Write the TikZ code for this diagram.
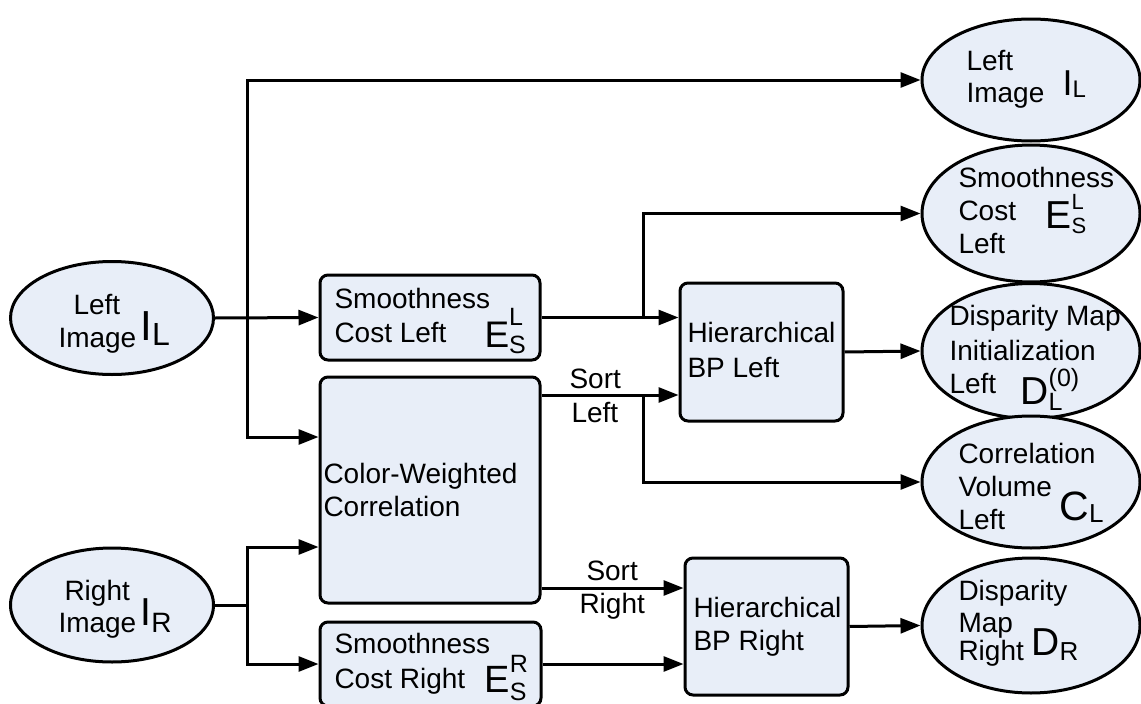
\documentclass[tikz,border=0pt]{standalone}
\usepackage{fontspec}
\setmainfont{Liberation Sans}
\usetikzlibrary{arrows.meta,shapes.geometric}
\definecolor{boxfill}{RGB}{232,238,248}
\newcommand\symbx[7]{{\fontsize{#1}{#1}\selectfont #2}\rlap{\raisebox{#5}{\fontsize{#3}{#3}\selectfont #4}}\raisebox{-#7}{\fontsize{#3}{#3}\selectfont #6}}
\begin{document}
\begin{tikzpicture}[x=1pt,y=-1pt,line width=3pt,
  ell/.style={ellipse,draw,fill=boxfill,inner sep=0pt},
  rbox/.style={rectangle,draw,fill=boxfill,rounded corners=8pt,inner sep=0pt},
  txt/.style={inner sep=0pt,anchor=base west,font=\fontsize{28}{33}\selectfont},
  sym/.style={inner sep=0pt,anchor=base west},
  arr/.style={-{Triangle[length=20pt,width=15pt]}}]
\useasboundingbox (0,0) rectangle (1141,704);
% shapes
\node[ell,minimum width=203pt,minimum height=113pt] (li) at (112,318) {};
\node[ell,minimum width=203pt,minimum height=114pt] (ri) at (112,605) {};
\node[rbox,minimum width=220pt,minimum height=85pt] (sl) at (430,317.5) {};
\node[rbox,minimum width=220pt,minimum height=226pt] (cw) at (430,490) {};
\node[rbox,minimum width=221pt,minimum height=84pt] (sr) at (430.5,664) {};
\node[rbox,minimum width=163pt,minimum height=138pt] (bpl) at (761.5,352) {};
\node[rbox,minimum width=163pt,minimum height=137pt] (bpr) at (766.5,626.5) {};
\node[ell,minimum width=218pt,minimum height=122pt] (li2) at (1031,80) {};
\node[ell,minimum width=218pt,minimum height=137pt] (sc2) at (1031,213.5) {};
\node[ell,minimum width=218pt,minimum height=135pt] (di) at (1031,351) {};
\node[ell,minimum width=218pt,minimum height=132pt] (cv) at (1031,482) {};
\node[ell,minimum width=218pt,minimum height=135pt] (dr) at (1031,625.5) {};
% junctions
\coordinate (ja) at (247,318);
\coordinate (jb) at (247,605);
\coordinate (jc) at (643,317.5);
\coordinate (jd) at (643,395);
\coordinate (je) at (600,588);
\coordinate (cwa) at ([yshift=53pt]cw.west);
\coordinate (cwb) at ([yshift=-57pt]cw.west);
% connectors
\draw[arr] (li.east) -- (sl.west);
\draw[arr] (ja) |- (li2.west);
\draw[arr] (ja) |- (cwa);
\draw (ri.east) -- (jb);
\draw[arr] (jb) |- (cwb);
\draw[arr] (jb) |- (sr.west);
\draw[arr] (sl.east) -- (sl.east -| bpl.west);
\draw[arr] (jc) |- (sc2.west);
\draw[arr] (cw.east |- jd) -- (bpl.west |- jd);
\draw[arr] (jd) |- (cv.west);
\draw[arr] (bpl.east) -- (di.west);
\draw[arr] (cw.east |- je) -- (bpr.west |- je);
\draw[arr] (sr.east) -- (sr.east -| bpr.west);
\draw[arr] (bpr.east) -- (dr.west);
% texts
\node[txt] (t1) at (72,314) {Left};
\node[txt] (t2) at (57,347) {Image};
\node[sym] (s1) at (139,340) {\symbx{42}{I}{32}{}{0pt}{L}{5pt}};
\node[txt] (t3) at (63,600) {Right};
\node[txt] (t4) at (57,632) {Image};
\node[sym] (s2) at (139,625) {\symbx{39}{I}{28}{}{0pt}{R}{7pt}};
\node[txt] (t5) at (333,308) {Smoothness};
\node[txt] (t6) at (333,342) {Cost Left};
\node[sym] (s3) at (483,347) {\symbx{37}{E}{25}{L}{22pt}{S}{6pt}};
\node[txt] (t7) at (322,483) {Color-Weighted};
\node[txt] (t8) at (322,516) {Correlation};
\node[txt] (t9) at (333,653) {Smoothness};
\node[txt] (t10) at (333,688) {Cost Right};
\node[sym] (s4) at (483,692) {\symbx{38}{E}{25}{R}{20pt}{S}{8pt}};
\node[txt] (t11) at (686,342) {Hierarchical};
\node[txt] (t12) at (686,377) {BP Left};
\node[txt] (t13) at (692,617) {Hierarchical};
\node[txt] (t14) at (692,650) {BP Right};
\node[txt] (t15) at (568,388) {Sort};
\node[txt] (t16) at (570,422) {Left};
\node[txt] (t17) at (585,580) {Sort};
\node[txt] (t18) at (578,613) {Right};
\node[txt] (t19) at (965,70) {Left};
\node[txt] (t20) at (965,102) {Image};
\node[sym] (s5) at (1061,95) {\symbx{36}{I}{24}{}{0pt}{L}{2pt}};
\node[txt] (t21) at (957,187) {Smoothness};
\node[txt] (t22) at (957,220) {Cost};
\node[txt] (t23) at (957,253) {Left};
\node[sym] (s6) at (1044,228) {\symbx{39}{E}{22}{L}{19pt}{S}{5pt}};
\node[txt] (t24) at (948,325) {Disparity Map};
\node[txt] (t25) at (948,360) {Initialization};
\node[txt] (t26) at (948,393) {Left};
\node[sym] (s7) at (1019,404) {\symbx{39}{D}{25}{(0)}{18pt}{L}{6pt}};
\node[txt] (t27) at (957,463) {Correlation};
\node[txt] (t28) at (957,496) {Volume};
\node[txt] (t29) at (957,529) {Left};
\node[sym] (s8) at (1058,520) {\symbx{41}{C}{26}{}{0pt}{L}{2pt}};
\node[txt] (t30) at (957,600) {Disparity};
\node[txt] (t31) at (957,632) {Map};
\node[txt] (t32) at (957,660) {Right};
\node[sym] (s9) at (1030,655) {\symbx{39}{D}{26}{}{0pt}{R}{5pt}};
\end{tikzpicture}
\end{document}
